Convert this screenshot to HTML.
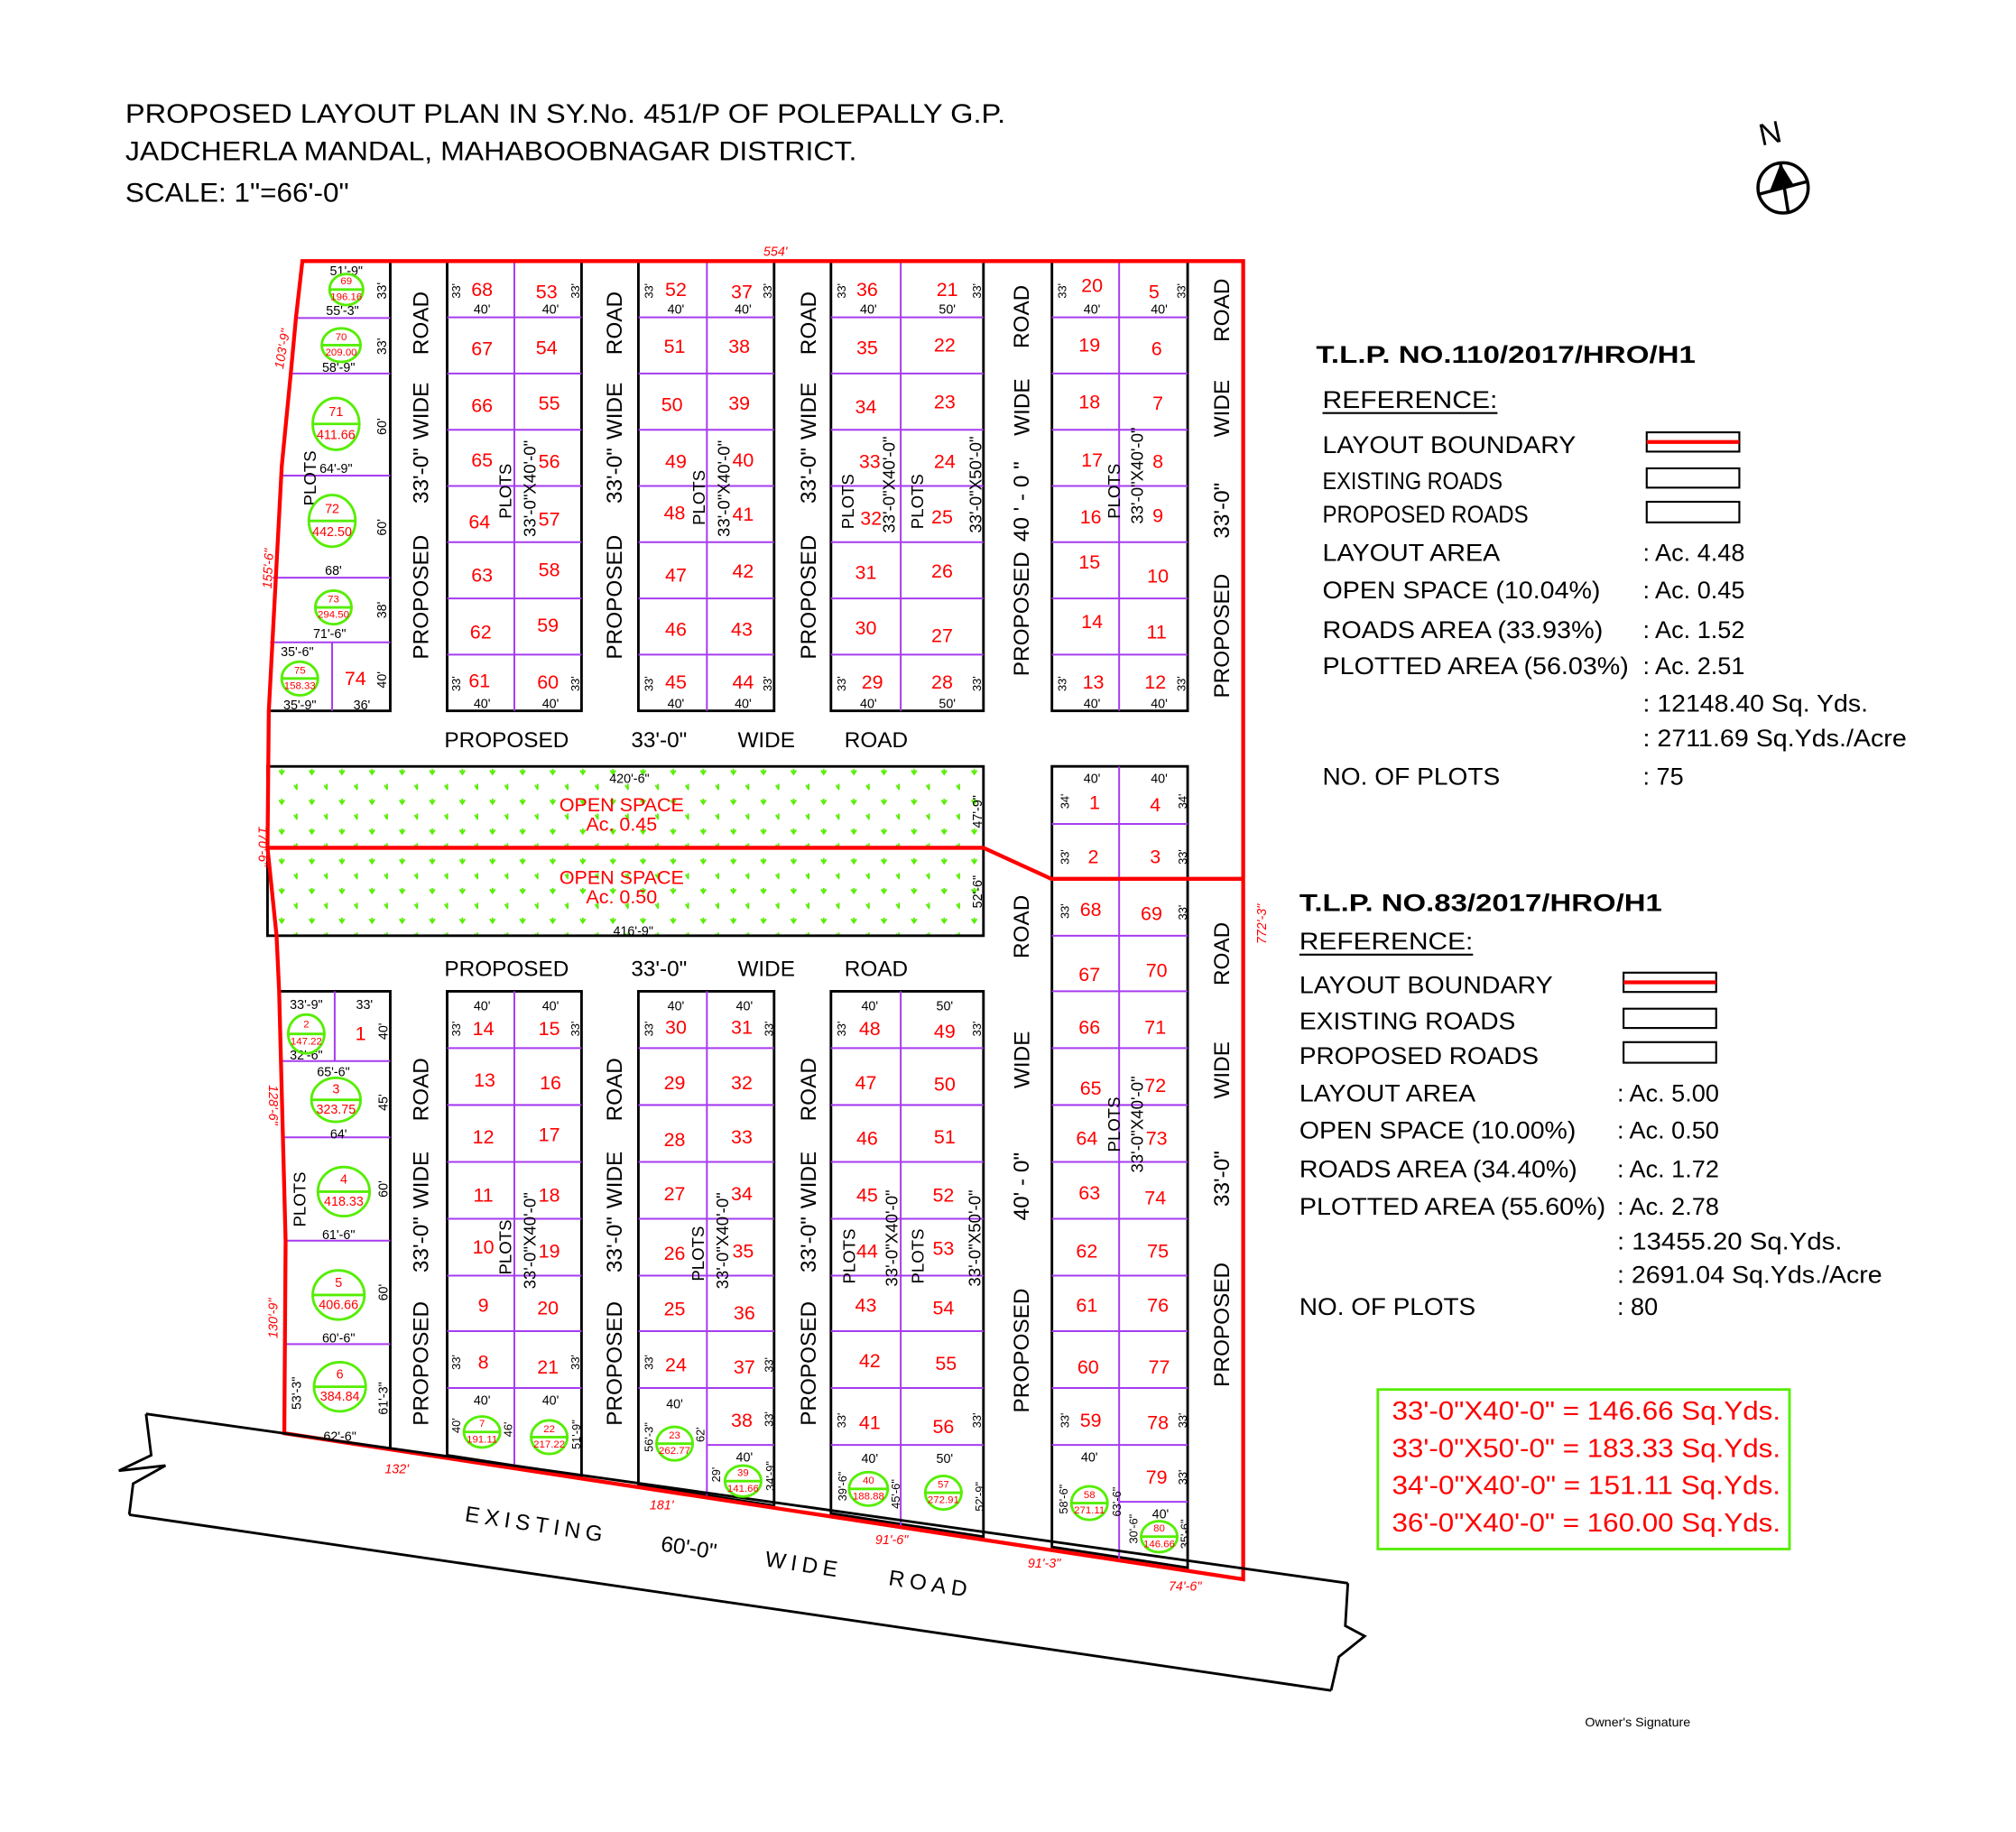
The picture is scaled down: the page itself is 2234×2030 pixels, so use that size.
<!DOCTYPE html>
<html><head><meta charset="utf-8"><style>
html,body{margin:0;padding:0;background:#fff}
svg{display:block}
text{font-family:"Liberation Sans",sans-serif;text-anchor:middle;dominant-baseline:central}
.n{fill:#f00;font-size:15px}
.cb{fill:#f00;font-size:10px}
.d{fill:#000;font-size:10px}
.s{fill:#000;font-size:9px}
.rd{font-size:17px;fill:#000}
.pl{font-size:13px;fill:#000}
.rdim{fill:#f00;font-size:10px;font-style:italic}
.cn{fill:#f00;font-size:8px}
.lg{font-size:19px;fill:#000;text-anchor:start;dominant-baseline:alphabetic}
.p{stroke:#a63cf0;stroke-width:1.4;fill:none}
.b{stroke:#000;stroke-width:2;fill:none}
.g{stroke:#5e0;stroke-width:2;fill:none}
</style></head><body>
<svg width="2234" height="2030" viewBox="0 0 1560 1417.5" xmlns="http://www.w3.org/2000/svg">
<defs>
<pattern id="os" x="207" y="593" width="23.3" height="23" patternUnits="userSpaceOnUse">
<path d="M9,3 l2,3 l2,-3 M11,2 v4" stroke="#5e0" stroke-width="1.3" fill="none"/>
<path d="M20.6,14.5 l2,3 l2,-3 M22.6,13.5 v4" stroke="#5e0" stroke-width="1.3" fill="none"/>
</pattern>
</defs>

<!-- Title -->
<text x="97" y="95" font-size="21" textLength="681" lengthAdjust="spacingAndGlyphs" style="text-anchor:start;dominant-baseline:alphabetic">PROPOSED  LAYOUT PLAN IN SY.No. 451/P OF POLEPALLY G.P.</text>
<text x="97" y="124" font-size="21" textLength="566" lengthAdjust="spacingAndGlyphs" style="text-anchor:start;dominant-baseline:alphabetic">JADCHERLA  MANDAL, MAHABOOBNAGAR DISTRICT.</text>
<text x="97" y="156" font-size="21" textLength="173" lengthAdjust="spacingAndGlyphs" style="text-anchor:start;dominant-baseline:alphabetic">SCALE: 1"=66'-0"</text>

<g transform="scale(0.9955)">
<!-- North -->
<text x="1376" y="104" font-size="24" transform="rotate(-12 1376 104)">N</text>
<circle cx="1386" cy="146" r="19.5" fill="none" stroke="#000" stroke-width="2.5"/>
<line x1="1367" y1="151" x2="1405" y2="141" stroke="#000" stroke-width="2.5"/>
<line x1="1384" y1="127" x2="1390" y2="165" stroke="#000" stroke-width="2.5"/>
<path d="M1384,127 L1375,150 L1395,145 Z" fill="#000"/>

<!-- Legend 1 -->
<text class="lg" x="1023" y="282" font-weight="bold" font-size="21" textLength="295" lengthAdjust="spacingAndGlyphs">T.L.P. NO.110/2017/HRO/H1</text>
<text class="lg" x="1028" y="317" textLength="136" lengthAdjust="spacingAndGlyphs">REFERENCE:</text>
<line x1="1028" y1="321" x2="1164" y2="321" stroke="#000" stroke-width="1.5"/>
<text class="lg" x="1028" y="352" textLength="197" lengthAdjust="spacingAndGlyphs">LAYOUT BOUNDARY</text>
<text class="lg" x="1028" y="380" textLength="140" lengthAdjust="spacingAndGlyphs">EXISTING ROADS</text>
<text class="lg" x="1028" y="406" textLength="160" lengthAdjust="spacingAndGlyphs">PROPOSED ROADS</text>
<text class="lg" x="1028" y="436" textLength="138" lengthAdjust="spacingAndGlyphs">LAYOUT AREA</text>
<text class="lg" x="1028" y="465" textLength="216" lengthAdjust="spacingAndGlyphs">OPEN SPACE (10.04%)</text>
<text class="lg" x="1028" y="496" textLength="218" lengthAdjust="spacingAndGlyphs">ROADS AREA (33.93%)</text>
<text class="lg" x="1028" y="524" textLength="238" lengthAdjust="spacingAndGlyphs">PLOTTED AREA (56.03%)</text>
<text class="lg" x="1028" y="610" textLength="138" lengthAdjust="spacingAndGlyphs">NO. OF PLOTS</text>
<text class="lg" x="1277" y="436">: Ac. 4.48</text>
<text class="lg" x="1277" y="465">: Ac. 0.45</text>
<text class="lg" x="1277" y="496">: Ac. 1.52</text>
<text class="lg" x="1277" y="524">: Ac. 2.51</text>
<text class="lg" x="1277" y="553" textLength="175" lengthAdjust="spacingAndGlyphs">: 12148.40 Sq. Yds.</text>
<text class="lg" x="1277" y="580" textLength="205" lengthAdjust="spacingAndGlyphs">: 2711.69 Sq.Yds./Acre</text>
<text class="lg" x="1277" y="610">: 75</text>
<rect x="1280" y="336" width="72" height="15" fill="none" stroke="#000" stroke-width="1.5"/>
<line x1="1280" y1="343.5" x2="1352" y2="343.5" stroke="#f00" stroke-width="3"/>
<rect x="1280" y="364" width="72" height="15" fill="none" stroke="#000" stroke-width="1.5"/>
<rect x="1280" y="390" width="72" height="16" fill="none" stroke="#000" stroke-width="1.5"/>

<!-- Legend 2 -->
<text class="lg" x="1010" y="708" font-weight="bold" font-size="21" textLength="282" lengthAdjust="spacingAndGlyphs">T.L.P. NO.83/2017/HRO/H1</text>
<text class="lg" x="1010" y="738" textLength="135" lengthAdjust="spacingAndGlyphs">REFERENCE:</text>
<line x1="1010" y1="742" x2="1145" y2="742" stroke="#000" stroke-width="1.5"/>
<text class="lg" x="1010" y="772" textLength="197" lengthAdjust="spacingAndGlyphs">LAYOUT BOUNDARY</text>
<text class="lg" x="1010" y="800" textLength="168" lengthAdjust="spacingAndGlyphs">EXISTING ROADS</text>
<text class="lg" x="1010" y="827" textLength="186" lengthAdjust="spacingAndGlyphs">PROPOSED ROADS</text>
<text class="lg" x="1010" y="856" textLength="137" lengthAdjust="spacingAndGlyphs">LAYOUT AREA</text>
<text class="lg" x="1010" y="885" textLength="215" lengthAdjust="spacingAndGlyphs">OPEN SPACE (10.00%)</text>
<text class="lg" x="1010" y="915" textLength="216" lengthAdjust="spacingAndGlyphs">ROADS AREA (34.40%)</text>
<text class="lg" x="1010" y="944" textLength="238" lengthAdjust="spacingAndGlyphs">PLOTTED AREA (55.60%)</text>
<text class="lg" x="1010" y="1022" textLength="137" lengthAdjust="spacingAndGlyphs">NO. OF PLOTS</text>
<text class="lg" x="1257" y="856">: Ac. 5.00</text>
<text class="lg" x="1257" y="885">: Ac. 0.50</text>
<text class="lg" x="1257" y="915">: Ac. 1.72</text>
<text class="lg" x="1257" y="944">: Ac. 2.78</text>
<text class="lg" x="1257" y="971" textLength="175" lengthAdjust="spacingAndGlyphs">: 13455.20 Sq.Yds.</text>
<text class="lg" x="1257" y="997" textLength="206" lengthAdjust="spacingAndGlyphs">: 2691.04 Sq.Yds./Acre</text>
<text class="lg" x="1257" y="1022">: 80</text>
<rect x="1262" y="756" width="72" height="15" fill="none" stroke="#000" stroke-width="1.5"/>
<line x1="1262" y1="763.5" x2="1334" y2="763.5" stroke="#f00" stroke-width="3"/>
<rect x="1262" y="784" width="72" height="15" fill="none" stroke="#000" stroke-width="1.5"/>
<rect x="1262" y="810" width="72" height="16" fill="none" stroke="#000" stroke-width="1.5"/>

<!-- Area box -->
<rect x="1071" y="1080" width="320" height="124" fill="none" stroke="#5e0" stroke-width="2"/>
<g style="fill:#f00" font-size="20">
<text x="1233" y="1097" textLength="302" lengthAdjust="spacingAndGlyphs">33'-0"X40'-0" = 146.66 Sq.Yds.</text>
<text x="1233" y="1126" textLength="302" lengthAdjust="spacingAndGlyphs">33'-0"X50'-0" = 183.33 Sq.Yds.</text>
<text x="1233" y="1155" textLength="302" lengthAdjust="spacingAndGlyphs">34'-0"X40'-0" = 151.11 Sq.Yds.</text>
<text x="1233" y="1184" textLength="302" lengthAdjust="spacingAndGlyphs">36'-0"X40'-0" = 160.00 Sq.Yds.</text>
</g>
<text x="1273" y="1339" font-size="10">Owner's  Signature</text>
</g>

<!-- Open space -->
<rect x="207" y="593" width="554" height="131" fill="url(#os)" stroke="#000" stroke-width="2"/>

<!-- Top blocks -->
<path class="b" d="M302,202 V550 H208"/>
<path class="p" d="M229,246 H302 M225,289 H302 M219,368 H302 M211,447 H302 M209,497 H302 M257,497 V550"/>
<rect class="b" x="346" y="202" width="104" height="348"/>
<rect class="b" x="494" y="202" width="105" height="348"/>
<rect class="b" x="643" y="202" width="118" height="348"/>
<rect class="b" x="814" y="202" width="105" height="348"/>
<path class="p" d="M398,202V550 M547,202V550 M697,202V550 M866,202V550
M346,245.5H450 M346,289H450 M346,332.5H450 M346,376H450 M346,419.5H450 M346,463H450 M346,506.5H450
M494,245.5H599 M494,289H599 M494,332.5H599 M494,376H599 M494,419.5H599 M494,463H599 M494,506.5H599
M643,245.5H761 M643,289H761 M643,332.5H761 M643,376H761 M643,419.5H761 M643,463H761 M643,506.5H761
M814,245.5H919 M814,289H919 M814,332.5H919 M814,376H919 M814,419.5H919 M814,463H919 M814,506.5H919"/>

<!-- E upper part -->
<path class="b" d="M814,680 V593 H919 V680"/>
<path class="p" d="M866,593V680 M814,637.5H919"/>

<!-- Bottom blocks -->
<path class="b" d="M216,767 H302 V1121"/>
<path class="p" d="M217,821 H302 M218,880 H302 M221,960 H302 M221,1040 H302 M259,767 V821"/>
<path class="b" d="M346,1126 V767 H450 V1142 Z"/>
<path class="b" d="M494,1149 V767 H599 V1165 Z"/>
<path class="b" d="M643,1171 V767 H761 V1189 Z"/>
<path class="b" d="M814,1197 V680 H919 V1213 Z"/>
<path class="p" d="M398,767V1135 M547,767V1157 M697,767V1180 M866,680V1206
M346,811H450 M346,855H450 M346,899H450 M346,943H450 M346,987H450 M346,1030H450 M346,1074H450
M494,811H599 M494,855H599 M494,899H599 M494,943H599 M494,987H599 M494,1030H599 M494,1074H599 M547,1118H599
M643,811H761 M643,855H761 M643,899H761 M643,943H761 M643,987H761 M643,1030H761 M643,1074H761 M643,1118H761
M814,724H919 M814,767H919 M814,811H919 M814,855H919 M814,899H919 M814,943H919 M814,987H919 M814,1030H919 M814,1074H919 M814,1118H919 M866,1162H919"/>

<!-- Red boundary -->
<path d="M234,202 L962,202 L962,1222 L220,1109 L221,960 L216,767 L214,724 L207,656 L208,550 L218,361 L225,289 L229,246 Z" fill="none" stroke="#f00" stroke-width="3"/>
<path d="M207,656 L761,656 L813.5,680 L962,680" fill="none" stroke="#f00" stroke-width="3"/>

<!-- Existing road -->
<path d="M113,1094 L1043,1225 M100,1172 L1030,1308" stroke="#000" stroke-width="2" fill="none"/>
<path d="M113,1094 L117,1126 L92,1138 L128,1134 L103,1148 L100,1172" stroke="#000" stroke-width="2" fill="none"/>
<path d="M1043,1225 L1041,1258 L1056,1266 L1036,1282 L1030,1308" stroke="#000" stroke-width="2" fill="none"/>
<g font-size="17" letter-spacing="4">
<text x="415" y="1180" transform="rotate(8.6 415 1180)">EXISTING</text>
<text x="533" y="1198" letter-spacing="0" transform="rotate(8.6 533 1198)">60'-0"</text>
<text x="622" y="1211" transform="rotate(8.6 622 1211)">WIDE</text>
<text x="720" y="1226" transform="rotate(8.6 720 1226)">ROAD</text>
</g>

<!-- Red dims -->
<text class="rdim" x="600" y="195">554'</text>
<text class="rdim" x="219" y="270" transform="rotate(-80 219 270)">103'-9"</text>
<text class="rdim" x="208" y="440" transform="rotate(-87 208 440)">155'-6"</text>
<text class="rdim" x="203" y="655" transform="rotate(90 203 655)">170'-6"</text>
<text class="rdim" x="211" y="855" transform="rotate(90 211 855)">128'-6"</text>
<text class="rdim" x="212" y="1020" transform="rotate(-90 212 1020)">130'-9"</text>
<text class="rdim" x="977" y="715" transform="rotate(-90 977 715)">772'-3"</text>
<text class="rdim" x="307" y="1137">132'</text>
<text class="rdim" x="512" y="1165">181'</text>
<text class="rdim" x="690" y="1192">91'-6"</text>
<text class="rdim" x="808" y="1210">91'-3"</text>
<text class="rdim" x="917" y="1228">74'-6"</text>

<!-- Road labels vertical -->
<g class="rd">
<text x="326" y="250" transform="rotate(-90 326 250)">ROAD</text>
<text x="326" y="318" transform="rotate(-90 326 318)">WIDE</text>
<text x="326" y="368" transform="rotate(-90 326 368)">33'-0"</text>
<text x="326" y="462" transform="rotate(-90 326 462)">PROPOSED</text>
<text x="476" y="250" transform="rotate(-90 476 250)">ROAD</text>
<text x="476" y="318" transform="rotate(-90 476 318)">WIDE</text>
<text x="476" y="368" transform="rotate(-90 476 368)">33'-0"</text>
<text x="476" y="462" transform="rotate(-90 476 462)">PROPOSED</text>
<text x="626" y="250" transform="rotate(-90 626 250)">ROAD</text>
<text x="626" y="318" transform="rotate(-90 626 318)">WIDE</text>
<text x="626" y="368" transform="rotate(-90 626 368)">33'-0"</text>
<text x="626" y="462" transform="rotate(-90 626 462)">PROPOSED</text>
<text x="791" y="245" transform="rotate(-90 791 245)">ROAD</text>
<text x="791" y="315" transform="rotate(-90 791 315)">WIDE</text>
<text x="791" y="388" transform="rotate(-90 791 388)">40 ' - 0 "</text>
<text x="791" y="475" transform="rotate(-90 791 475)">PROPOSED</text>
<text x="946" y="240" transform="rotate(-90 946 240)">ROAD</text>
<text x="946" y="316" transform="rotate(-90 946 316)">WIDE</text>
<text x="946" y="395" transform="rotate(-90 946 395)">33'-0"</text>
<text x="946" y="492" transform="rotate(-90 946 492)">PROPOSED</text>

<text x="326" y="843" transform="rotate(-90 326 843)">ROAD</text>
<text x="326" y="913" transform="rotate(-90 326 913)">WIDE</text>
<text x="326" y="963" transform="rotate(-90 326 963)">33'-0"</text>
<text x="326" y="1055" transform="rotate(-90 326 1055)">PROPOSED</text>
<text x="476" y="843" transform="rotate(-90 476 843)">ROAD</text>
<text x="476" y="913" transform="rotate(-90 476 913)">WIDE</text>
<text x="476" y="963" transform="rotate(-90 476 963)">33'-0"</text>
<text x="476" y="1055" transform="rotate(-90 476 1055)">PROPOSED</text>
<text x="626" y="843" transform="rotate(-90 626 843)">ROAD</text>
<text x="626" y="913" transform="rotate(-90 626 913)">WIDE</text>
<text x="626" y="963" transform="rotate(-90 626 963)">33'-0"</text>
<text x="626" y="1055" transform="rotate(-90 626 1055)">PROPOSED</text>
<text x="791" y="717" transform="rotate(-90 791 717)">ROAD</text>
<text x="791" y="820" transform="rotate(-90 791 820)">WIDE</text>
<text x="791" y="918" transform="rotate(-90 791 918)">40' - 0"</text>
<text x="791" y="1045" transform="rotate(-90 791 1045)">PROPOSED</text>
<text x="946" y="738" transform="rotate(-90 946 738)">ROAD</text>
<text x="946" y="828" transform="rotate(-90 946 828)">WIDE</text>
<text x="946" y="912" transform="rotate(-90 946 912)">33'-0"</text>
<text x="946" y="1025" transform="rotate(-90 946 1025)">PROPOSED</text>

<text x="392" y="573">PROPOSED</text><text x="510" y="573">33'-0"</text><text x="593" y="573">WIDE</text><text x="678" y="573">ROAD</text>
<text x="392" y="750">PROPOSED</text><text x="510" y="750">33'-0"</text><text x="593" y="750">WIDE</text><text x="678" y="750">ROAD</text>
</g>

<!-- PLOTS labels -->
<g class="pl">
<text x="240" y="370" transform="rotate(-90 240 370)">PLOTS</text>
<text x="232" y="928" transform="rotate(-90 232 928)">PLOTS</text>
<text x="391" y="380" transform="rotate(-90 391 380)">PLOTS</text>
<text x="410" y="378" transform="rotate(-90 410 378)">33'-0"X40'-0"</text>
<text x="541" y="385" transform="rotate(-90 541 385)">PLOTS</text>
<text x="560" y="378" transform="rotate(-90 560 378)">33'-0"X40'-0"</text>
<text x="656" y="388" transform="rotate(-90 656 388)">PLOTS</text>
<text x="688" y="375" transform="rotate(-90 688 375)">33'-0"X40'-0"</text>
<text x="710" y="388" transform="rotate(-90 710 388)">PLOTS</text>
<text x="755" y="375" transform="rotate(-90 755 375)">33'-0"X50'-0"</text>
<text x="862" y="380" transform="rotate(-90 862 380)">PLOTS</text>
<text x="880" y="368" transform="rotate(-90 880 368)">33'-0"X40'-0"</text>
<text x="391" y="965" transform="rotate(-90 391 965)">PLOTS</text>
<text x="410" y="960" transform="rotate(-90 410 960)">33'-0"X40'-0"</text>
<text x="540" y="970" transform="rotate(-90 540 970)">PLOTS</text>
<text x="559" y="960" transform="rotate(-90 559 960)">33'-0"X40'-0"</text>
<text x="657" y="972" transform="rotate(-90 657 972)">PLOTS</text>
<text x="690" y="958" transform="rotate(-90 690 958)">33'-0"X40'-0"</text>
<text x="710" y="972" transform="rotate(-90 710 972)">PLOTS</text>
<text x="754" y="958" transform="rotate(-90 754 958)">33'-0"X50'-0"</text>
<text x="862" y="870" transform="rotate(-90 862 870)">PLOTS</text>
<text x="880" y="870" transform="rotate(-90 880 870)">33'-0"X40'-0"</text>
</g>

<!-- plot numbers -->
<g class="n">
<text x="373" y="224">68</text><text x="423" y="226">53</text>
<text x="373" y="270">67</text><text x="423" y="269">54</text>
<text x="373" y="314">66</text><text x="425" y="312">55</text>
<text x="373" y="356">65</text><text x="425" y="357">56</text>
<text x="371" y="404">64</text><text x="425" y="402">57</text>
<text x="373" y="445">63</text><text x="425" y="441">58</text>
<text x="372" y="489">62</text><text x="424" y="484">59</text>
<text x="371" y="527">61</text><text x="424" y="528">60</text>

<text x="523" y="224">52</text><text x="574" y="226">37</text>
<text x="522" y="268">51</text><text x="572" y="268">38</text>
<text x="520" y="313">50</text><text x="572" y="312">39</text>
<text x="523" y="357">49</text><text x="575" y="356">40</text>
<text x="522" y="397">48</text><text x="575" y="398">41</text>
<text x="523" y="445">47</text><text x="575" y="442">42</text>
<text x="523" y="487">46</text><text x="574" y="487">43</text>
<text x="523" y="528">45</text><text x="575" y="528">44</text>

<text x="671" y="224">36</text><text x="733" y="224">21</text>
<text x="671" y="269">35</text><text x="731" y="267">22</text>
<text x="670" y="315">34</text><text x="731" y="311">23</text>
<text x="673" y="357">33</text><text x="731" y="357">24</text>
<text x="674" y="401">32</text><text x="729" y="400">25</text>
<text x="670" y="443">31</text><text x="729" y="442">26</text>
<text x="670" y="486">30</text><text x="729" y="492">27</text>
<text x="675" y="528">29</text><text x="729" y="528">28</text>

<text x="845" y="221">20</text><text x="893" y="226">5</text>
<text x="843" y="267">19</text><text x="895" y="270">6</text>
<text x="843" y="311">18</text><text x="896" y="312">7</text>
<text x="845" y="356">17</text><text x="896" y="357">8</text>
<text x="844" y="400">16</text><text x="896" y="399">9</text>
<text x="843" y="435">15</text><text x="896" y="446">10</text>
<text x="845" y="481">14</text><text x="895" y="489">11</text>
<text x="846" y="528">13</text><text x="894" y="528">12</text>

<text x="847" y="621">1</text><text x="894" y="623">4</text>
<text x="846" y="663">2</text><text x="894" y="663">3</text>
<text x="844" y="704">68</text><text x="891" y="707">69</text>
<text x="843" y="754">67</text><text x="895" y="751">70</text>
<text x="843" y="795">66</text><text x="894" y="795">71</text>
<text x="844" y="842">65</text><text x="894" y="840">72</text>
<text x="841" y="881">64</text><text x="895" y="881">73</text>
<text x="843" y="923">63</text><text x="894" y="927">74</text>
<text x="841" y="968">62</text><text x="896" y="968">75</text>
<text x="841" y="1010">61</text><text x="896" y="1010">76</text>
<text x="842" y="1058">60</text><text x="897" y="1058">77</text>
<text x="844" y="1099">59</text><text x="896" y="1101">78</text>
<text x="895" y="1143">79</text>

<text x="279" y="800">1</text>
<text x="275" y="525">74</text>

<text x="374" y="796">14</text><text x="425" y="796">15</text>
<text x="375" y="836">13</text><text x="426" y="838">16</text>
<text x="374" y="880">12</text><text x="425" y="878">17</text>
<text x="374" y="925">11</text><text x="425" y="925">18</text>
<text x="374" y="965">10</text><text x="425" y="968">19</text>
<text x="374" y="1010">9</text><text x="424" y="1012">20</text>
<text x="374" y="1054">8</text><text x="424" y="1058">21</text>

<text x="523" y="795">30</text><text x="574" y="795">31</text>
<text x="522" y="838">29</text><text x="574" y="838">32</text>
<text x="522" y="882">28</text><text x="574" y="880">33</text>
<text x="522" y="924">27</text><text x="574" y="924">34</text>
<text x="522" y="970">26</text><text x="575" y="968">35</text>
<text x="522" y="1013">25</text><text x="576" y="1016">36</text>
<text x="523" y="1056">24</text><text x="576" y="1058">37</text>
<text x="574" y="1099">38</text>

<text x="673" y="796">48</text><text x="731" y="798">49</text>
<text x="670" y="838">47</text><text x="731" y="839">50</text>
<text x="671" y="881">46</text><text x="731" y="880">51</text>
<text x="671" y="925">45</text><text x="730" y="925">52</text>
<text x="671" y="968">44</text><text x="730" y="966">53</text>
<text x="670" y="1010">43</text><text x="730" y="1012">54</text>
<text x="673" y="1053">42</text><text x="732" y="1055">55</text>
<text x="673" y="1101">41</text><text x="730" y="1104">56</text>

<text x="481" y="623">OPEN SPACE</text>
<text x="481" y="638">Ac. 0.45</text>
<text x="481" y="679">OPEN SPACE</text>
<text x="481" y="694">Ac. 0.50</text>
</g>

<!-- small dims -->
<g class="d">
<text x="487" y="603">420'-6"</text><text x="490" y="721">416'-9"</text>
<text x="757" y="628" transform="rotate(-90 757 628)">47'-9"</text>
<text x="757" y="690" transform="rotate(-90 757 690)">52'-6"</text>

<text x="268" y="210">51'-9"</text><text x="265" y="241">55'-3"</text>
<text x="262" y="285">58'-9"</text><text x="260" y="363">64'-9"</text>
<text x="258" y="442">68'</text><text x="255" y="491">71'-6"</text>
<text x="230" y="505">35'-6"</text><text x="232" y="546">35'-9"</text><text x="280" y="546">36'</text>
<text x="296" y="225" transform="rotate(-90 296 225)">33'</text>
<text x="296" y="268" transform="rotate(-90 296 268)">33'</text>
<text x="296" y="330" transform="rotate(-90 296 330)">60'</text>
<text x="296" y="408" transform="rotate(-90 296 408)">60'</text>
<text x="296" y="472" transform="rotate(-90 296 472)">38'</text>
<text x="296" y="526" transform="rotate(-90 296 526)">40'</text>

<text x="373" y="240">40'</text><text x="426" y="240">40'</text>
<text x="373" y="545">40'</text><text x="426" y="545">40'</text>
<text x="523" y="240">40'</text><text x="575" y="240">40'</text>
<text x="523" y="545">40'</text><text x="575" y="545">40'</text>
<text x="672" y="240">40'</text><text x="733" y="240">50'</text>
<text x="672" y="545">40'</text><text x="733" y="545">50'</text>
<text x="845" y="240">40'</text><text x="897" y="240">40'</text>
<text x="845" y="545">40'</text><text x="897" y="545">40'</text>

<text x="237" y="778">33'-9"</text><text x="282" y="778">33'</text><text x="237" y="817">32'-6"</text>
<text x="258" y="830">65'-6"</text><text x="262" y="878">64'</text>
<text x="262" y="956">61'-6"</text><text x="262" y="1036">60'-6"</text><text x="263" y="1112">62'-6"</text>
<text x="297" y="798" transform="rotate(-90 297 798)">40'</text>
<text x="297" y="853" transform="rotate(-90 297 853)">45'</text>
<text x="297" y="920" transform="rotate(-90 297 920)">60'</text>
<text x="297" y="1000" transform="rotate(-90 297 1000)">60'</text>
<text x="297" y="1082" transform="rotate(-90 297 1082)">61'-3"</text>
<text x="230" y="1078" transform="rotate(-90 230 1078)">53'-3"</text>

<text x="373" y="779">40'</text><text x="426" y="779">40'</text>
<text x="523" y="779">40'</text><text x="576" y="779">40'</text>
<text x="673" y="779">40'</text><text x="731" y="779">50'</text>
<text x="845" y="603">40'</text><text x="897" y="603">40'</text>
<text x="373" y="1084">40'</text><text x="426" y="1084">40'</text>
<text x="522" y="1087">40'</text><text x="576" y="1128">40'</text>
<text x="673" y="1129">40'</text><text x="731" y="1129">50'</text>
<text x="843" y="1128">40'</text><text x="898" y="1172">40'</text>
</g>
<g class="s">
<text x="353" y="225" transform="rotate(-90 353 225)">33'</text><text x="445" y="225" transform="rotate(-90 445 225)">33'</text>
<text x="353" y="529" transform="rotate(-90 353 529)">33'</text><text x="445" y="529" transform="rotate(-90 445 529)">33'</text>
<text x="502" y="225" transform="rotate(-90 502 225)">33'</text><text x="594" y="225" transform="rotate(-90 594 225)">33'</text>
<text x="502" y="529" transform="rotate(-90 502 529)">33'</text><text x="594" y="529" transform="rotate(-90 594 529)">33'</text>
<text x="651" y="225" transform="rotate(-90 651 225)">33'</text><text x="756" y="225" transform="rotate(-90 756 225)">33'</text>
<text x="651" y="529" transform="rotate(-90 651 529)">33'</text><text x="756" y="529" transform="rotate(-90 756 529)">33'</text>
<text x="822" y="225" transform="rotate(-90 822 225)">33'</text><text x="914" y="225" transform="rotate(-90 914 225)">33'</text>
<text x="822" y="529" transform="rotate(-90 822 529)">33'</text><text x="914" y="529" transform="rotate(-90 914 529)">33'</text>
<text x="824" y="620" transform="rotate(-90 824 620)">34'</text><text x="915" y="620" transform="rotate(-90 915 620)">34'</text>
<text x="824" y="663" transform="rotate(-90 824 663)">33'</text><text x="915" y="663" transform="rotate(-90 915 663)">33'</text>
<text x="824" y="705" transform="rotate(-90 824 705)">33'</text><text x="915" y="706" transform="rotate(-90 915 706)">33'</text>
<text x="824" y="1099" transform="rotate(-90 824 1099)">33'</text><text x="915" y="1099" transform="rotate(-90 915 1099)">33'</text>
<text x="915" y="1143" transform="rotate(-90 915 1143)">33'</text>
<text x="353" y="796" transform="rotate(-90 353 796)">33'</text><text x="445" y="796" transform="rotate(-90 445 796)">33'</text>
<text x="353" y="1054" transform="rotate(-90 353 1054)">33'</text><text x="445" y="1054" transform="rotate(-90 445 1054)">33'</text>
<text x="502" y="796" transform="rotate(-90 502 796)">33'</text><text x="595" y="796" transform="rotate(-90 595 796)">33'</text>
<text x="502" y="1054" transform="rotate(-90 502 1054)">33'</text><text x="595" y="1056" transform="rotate(-90 595 1056)">33'</text>
<text x="595" y="1098" transform="rotate(-90 595 1098)">33'</text>
<text x="651" y="796" transform="rotate(-90 651 796)">33'</text><text x="756" y="796" transform="rotate(-90 756 796)">33'</text>
<text x="651" y="1099" transform="rotate(-90 651 1099)">33'</text><text x="756" y="1099" transform="rotate(-90 756 1099)">33'</text>
<text x="353" y="1103" transform="rotate(-90 353 1103)">40'</text>
<text x="393" y="1106" transform="rotate(-90 393 1106)">46'</text>
<text x="446" y="1110" transform="rotate(-90 446 1110)">51'-9"</text>
<text x="502" y="1112" transform="rotate(-90 502 1112)">56'-3"</text>
<text x="542" y="1110" transform="rotate(-90 542 1110)">62'</text>
<text x="554" y="1141" transform="rotate(-90 554 1141)">29'</text>
<text x="596" y="1142" transform="rotate(-90 596 1142)">34'-9"</text>
<text x="652" y="1150" transform="rotate(-90 652 1150)">39'-6"</text>
<text x="693" y="1156" transform="rotate(-90 693 1156)">45'-6"</text>
<text x="758" y="1158" transform="rotate(-90 758 1158)">52'-9"</text>
<text x="823" y="1160" transform="rotate(-90 823 1160)">58'-6"</text>
<text x="864" y="1162" transform="rotate(-90 864 1162)">63'-6"</text>
<text x="877" y="1183" transform="rotate(-90 877 1183)">30'-6"</text>
<text x="917" y="1187" transform="rotate(-90 917 1187)">35'-6"</text>
</g>

<!-- circles -->
<g>
<ellipse class="g" cx="268" cy="224" rx="13" ry="12"/><line class="g" x1="255" y1="224" x2="281" y2="224"/><text class="cn" x="268" y="218">69</text><text class="cn" x="268" y="230">196.16</text>
<ellipse class="g" cx="264" cy="267" rx="15" ry="13"/><line class="g" x1="249" y1="267" x2="279" y2="267"/><text class="cn" x="264" y="261">70</text><text class="cn" x="264" y="273">209.00</text>
<ellipse class="g" cx="260" cy="328" rx="18" ry="20"/><line class="g" x1="242" y1="328" x2="278" y2="328"/><text class="cb" x="260" y="319">71</text><text class="cb" x="260" y="337">411.66</text>
<ellipse class="g" cx="257" cy="403" rx="18" ry="20"/><line class="g" x1="239" y1="403" x2="275" y2="403"/><text class="cb" x="257" y="394">72</text><text class="cb" x="257" y="412">442.50</text>
<ellipse class="g" cx="258" cy="470" rx="14" ry="13"/><line class="g" x1="244" y1="470" x2="272" y2="470"/><text class="cn" x="258" y="464">73</text><text class="cn" x="258" y="476">294.50</text>
<ellipse class="g" cx="232" cy="525" rx="14" ry="13"/><line class="g" x1="218" y1="525" x2="246" y2="525"/><text class="cn" x="232" y="519">75</text><text class="cn" x="232" y="531">158.33</text>

<ellipse class="g" cx="237" cy="800" rx="14" ry="15"/><line class="g" x1="223" y1="800" x2="251" y2="800"/><text class="cn" x="237" y="793">2</text><text class="cn" x="237" y="806">147.22</text>
<ellipse class="g" cx="260" cy="851" rx="19" ry="17"/><line class="g" x1="241" y1="851" x2="279" y2="851"/><text class="cb" x="260" y="843">3</text><text class="cb" x="260" y="859">323.75</text>
<ellipse class="g" cx="266" cy="922" rx="20" ry="19"/><line class="g" x1="246" y1="922" x2="286" y2="922"/><text class="cb" x="266" y="913">4</text><text class="cb" x="266" y="930">418.33</text>
<ellipse class="g" cx="262" cy="1002" rx="20" ry="19"/><line class="g" x1="242" y1="1002" x2="282" y2="1002"/><text class="cb" x="262" y="993">5</text><text class="cb" x="262" y="1010">406.66</text>
<ellipse class="g" cx="263" cy="1073" rx="20" ry="19"/><line class="g" x1="243" y1="1073" x2="283" y2="1073"/><text class="cb" x="263" y="1064">6</text><text class="cb" x="263" y="1081">384.84</text>

<ellipse class="g" cx="373" cy="1108" rx="14" ry="12"/><line class="g" x1="359" y1="1108" x2="387" y2="1108"/><text class="cn" x="373" y="1102">7</text><text class="cn" x="373" y="1114">191.11</text>
<ellipse class="g" cx="425" cy="1112" rx="14" ry="13"/><line class="g" x1="411" y1="1112" x2="439" y2="1112"/><text class="cn" x="425" y="1106">22</text><text class="cn" x="425" y="1118">217.22</text>
<ellipse class="g" cx="522" cy="1117" rx="14" ry="13"/><line class="g" x1="508" y1="1117" x2="536" y2="1117"/><text class="cn" x="522" y="1111">23</text><text class="cn" x="522" y="1123">262.77</text>
<ellipse class="g" cx="575" cy="1146" rx="14" ry="12"/><line class="g" x1="561" y1="1146" x2="589" y2="1146"/><text class="cn" x="575" y="1140">39</text><text class="cn" x="575" y="1152">141.66</text>
<ellipse class="g" cx="672" cy="1152" rx="15" ry="13"/><line class="g" x1="657" y1="1152" x2="687" y2="1152"/><text class="cn" x="672" y="1146">40</text><text class="cn" x="672" y="1158">188.88</text>
<ellipse class="g" cx="730" cy="1155" rx="14" ry="13"/><line class="g" x1="716" y1="1155" x2="744" y2="1155"/><text class="cn" x="730" y="1149">57</text><text class="cn" x="730" y="1161">272.91</text>
<ellipse class="g" cx="843" cy="1163" rx="14" ry="13"/><line class="g" x1="829" y1="1163" x2="857" y2="1163"/><text class="cn" x="843" y="1157">58</text><text class="cn" x="843" y="1169">271.11</text>
<ellipse class="g" cx="897" cy="1189" rx="14" ry="12"/><line class="g" x1="883" y1="1189" x2="911" y2="1189"/><text class="cn" x="897" y="1183">80</text><text class="cn" x="897" y="1195">146.66</text>
</g>
</svg>
</body></html>
